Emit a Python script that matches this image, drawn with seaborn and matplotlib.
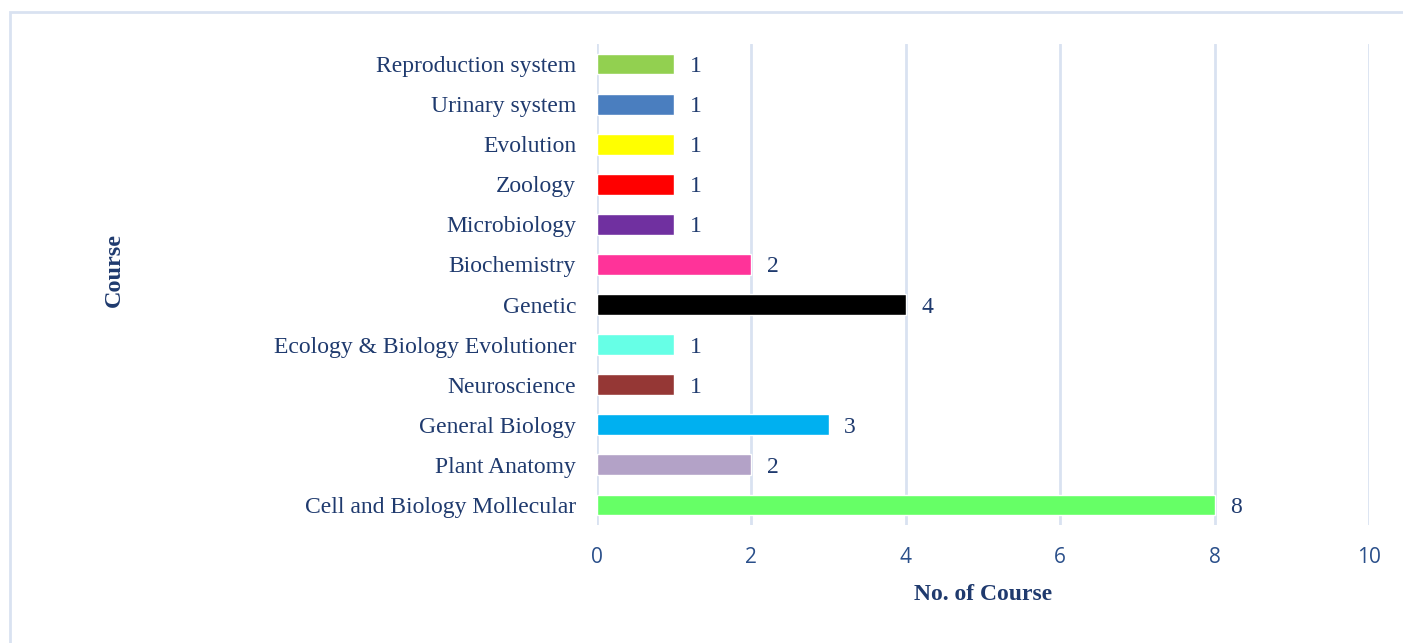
import matplotlib
matplotlib.use("Agg")
import matplotlib.pyplot as plt
import pandas
import seaborn
from matplotlib.patches import Rectangle

courses = [
    "Reproduction system",
    "Urinary system",
    "Evolution",
    "Zoology",
    "Microbiology",
    "Biochemistry",
    "Genetic",
    "Ecology & Biology Evolutioner",
    "Neuroscience",
    "General Biology",
    "Plant Anatomy",
    "Cell and Biology Mollecular",
]
counts = [1, 1, 1, 1, 1, 2, 4, 1, 1, 3, 2, 8]
bar_colors = [
    "#92D050", "#4A7EBF", "#FFFF00", "#FF0000", "#7030A0", "#FF3399",
    "#000000", "#66FFE6", "#953735", "#00B0F0", "#B3A2C7", "#66FF66",
]
x_ticks = [0, 2, 4, 6, 8, 10]

text_color = "#1F3A6E"
tick_color = "#2A4F8A"
grid_color = "#D9E2F1"

seaborn.set_theme(style="white")
plt.rcParams["font.family"] = ["Liberation Serif", "DejaVu Serif"]

df = pandas.DataFrame({"course": courses, "count": counts})

fig = plt.figure(figsize=(14.03, 6.43), dpi=100)
ax = fig.add_axes([597 / 1403, 1 - 525 / 643, (1369 - 597) / 1403, (525 - 44) / 643])

seaborn.barplot(data=df, x="count", y="course", hue="course", palette=bar_colors,
                order=courses, hue_order=courses, width=0.52, legend=False,
                saturation=1, ax=ax, zorder=3)

for container in ax.containers:
    labels = ax.bar_label(container, padding=11, fontsize=17, color=text_color,
                          family=["Liberation Serif"])
    for t in labels:
        t.set_va("center_baseline")

ax.set_xlim(0, 10)
ax.set_xticks(x_ticks)
ax.set_xticklabels([str(t) for t in x_ticks], family=["Open Sans"], fontsize=15, color=tick_color)
ax.tick_params(axis="x", length=0, pad=16)
ax.tick_params(axis="y", length=0, pad=15, labelsize=17, labelcolor=text_color)
ax.xaxis.grid(True, color=grid_color, linewidth=2, zorder=0)
ax.yaxis.grid(False)
for spine in ax.spines.values():
    spine.set_visible(False)

ax.set_xlabel("No. of Course", fontsize=17, fontweight="bold", color=text_color, labelpad=11)
ax.set_ylabel("")
fig.text(114 / 1403, 1 - 270 / 643, "Course", rotation=90, ha="center", va="center",
         fontsize=17.5, fontweight="bold", color=text_color)

fig.patches.append(Rectangle((10 / 1403, -0.05), 1.1, 1 - 12 / 643 + 0.05,
                             transform=fig.transFigure, fill=False,
                             edgecolor=grid_color, linewidth=2))

fig.savefig("out.png", dpi=100)
